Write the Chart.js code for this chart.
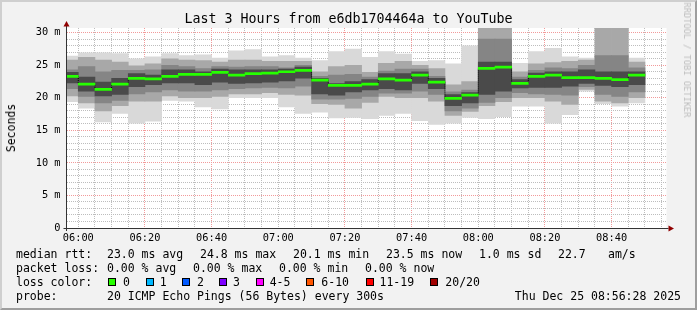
<!DOCTYPE html>
<html><head><meta charset="utf-8">
<script src="https://cdn.jsdelivr.net/npm/chart.js@4.4.1/dist/chart.umd.min.js"></script>
<style>
html,body{margin:0;padding:0;}
body{width:697px;height:310px;overflow:hidden;background:#f2f2f2;font-family:"DejaVu Sans Mono",monospace;position:relative;}
#frame{position:absolute;left:0;top:0;width:697px;height:310px;box-sizing:border-box;border-top:2px solid #cfcfcf;border-left:2px solid #cfcfcf;border-right:2px solid #9e9e9e;border-bottom:2px solid #9e9e9e;}
#c{position:absolute;left:0;top:0;}
.t{position:absolute;white-space:pre;color:#000;font-size:11.5px;line-height:14px;}
#title{position:absolute;left:0;top:11px;width:697px;text-align:center;font-size:13.3px;line-height:16px;color:#000;white-space:pre;}
#ylab{position:absolute;left:11px;top:128px;transform:translate(-50%,-50%) rotate(-90deg);font-size:11.5px;white-space:pre;color:#000;}
#wm{position:absolute;left:687px;top:60px;transform:translate(-50%,-50%) rotate(90deg);font-size:8.7px;white-space:pre;color:#bdbdbd;}
.box{position:absolute;width:6px;height:6px;border:1px solid #000;top:278px;}
</style>
</head><body>
<div id="frame"></div>
<canvas id="c" width="697" height="310"></canvas>
<div id="title"></div>
<div id="ylab">Seconds</div>
<div id="wm">RRDTOOL / TOBI OETIKER</div>
<div id="legend"></div>
<script>
// ---- data ----
const chartTitle = "Last 3 Hours from e6db1704464a to YouTube";
const startTime = "05:56:28";
const endTime = "08:56:28";
const sampleTimes = ["06:00","06:05","06:10","06:15","06:20","06:25","06:30","06:35","06:40","06:45","06:50","06:55",
  "07:00","07:05","07:10","07:15","07:20","07:25","07:30","07:35","07:40","07:45","07:50","07:55",
  "08:00","08:05","08:10","08:15","08:20","08:25","08:30","08:35","08:40","08:45","08:50"];
const medianRtt = [23.3,22.1,21.3,22.1,23.0,22.9,23.3,23.6,23.6,23.9,23.5,23.7,23.8,24.0,24.2,22.7,21.9,21.9,22.1,22.9,22.7,23.5,22.4,19.9,20.4,24.5,24.7,22.2,23.3,23.5,23.1,23.1,23.0,22.8,23.5];
const smokeMax = [26.4,26.9,26.9,26.8,26.0,26.3,26.8,26.5,26.6,26.1,27.2,27.4,26.3,26.5,26.1,25.7,27.1,27.5,26.2,27.1,26.7,25.6,25.7,25.2,28.0,32.0,32.0,25.3,27.1,27.6,26.3,26.1,32.0,32.0,26.1];
const smokeMin = [19.4,18.4,16.3,17.6,16.1,16.4,19.6,19.5,18.6,18.3,20.0,20.0,20.0,18.6,17.6,17.8,16.9,17.0,16.8,17.3,17.6,16.5,15.9,16.1,17.0,16.8,17.1,18.7,18.7,16.1,17.4,21.0,19.1,18.7,19.2];
const band2Hi = [25.8,26.2,25.8,25.5,24.9,25.2,26.0,25.8,25.7,25.5,25.8,25.8,25.6,25.6,25.6,24.0,24.8,25.0,23.9,25.3,25.6,25.0,24.5,22.0,22.5,32.0,32.0,24.0,25.2,25.4,25.6,25.8,32.0,32.0,25.5];
const band2Lo = [20.3,19.2,18.0,18.8,19.5,19.5,20.3,20.0,20.0,20.2,20.6,20.6,20.8,20.5,20.4,19.1,19.0,18.4,19.3,20.2,20.0,20.0,19.5,17.3,17.9,18.8,19.4,20.0,20.0,19.5,19.0,21.3,19.5,19.2,20.0];
const band3Hi = [24.3,24.8,24.0,24.2,24.2,24.3,25.0,24.8,24.5,24.8,24.7,24.8,24.8,24.6,25.0,23.3,23.5,23.6,23.2,24.1,24.4,24.4,23.3,20.9,21.2,29.0,29.0,23.2,24.2,24.6,24.5,25.0,26.5,26.5,24.6];
const band3Lo = [21.4,20.2,19.2,19.6,20.6,20.9,21.2,21.0,21.0,21.2,21.4,21.5,21.6,21.5,21.8,19.8,19.8,19.9,20.2,20.7,20.7,21.0,20.5,18.0,18.4,19.3,20.0,20.8,20.6,20.5,20.4,21.7,20.5,20.2,20.9];
const coreHi = [23.9,23.2,22.4,23.0,23.7,23.5,24.3,24.3,24.0,24.4,24.3,24.3,24.3,24.4,24.7,23.0,22.2,22.5,22.8,23.7,23.7,24.0,23.0,20.5,20.8,25.5,25.5,22.8,23.8,24.0,24.0,24.3,24.0,24.0,24.0];
const coreLo = [22.3,21.0,20.3,20.5,21.7,22.0,22.3,22.3,22.0,22.4,22.2,22.3,22.4,22.6,23.0,20.6,20.4,20.9,21.2,21.4,21.2,22.2,21.4,18.8,19.2,20.5,21.0,21.5,21.6,21.6,21.8,22.2,21.9,21.7,22.0];
const xTickLabels = ["06:00","06:20","06:40","07:00","07:20","07:40","08:00","08:20","08:40"];
const yTickLabels = ["0","5 m","10 m","15 m","20 m","25 m","30 m"];
const yMax = 30.72;
const lossLabels = ["0","1","2","3","4-5","6-10","11-19","20/20"];
const lossColors = ["#26ff00","#00b8ff","#0059ff","#7e00ff","#ff00ff","#ff5500","#ff0000","#a10000"];
const statsRtt = ["23.0 ms avg","24.8 ms max","20.1 ms min","23.5 ms now","1.0 ms sd","22.7","am/s"];
const statsLoss = ["0.00 % avg","0.00 % max","0.00 % min","0.00 % now"];
const probeText = "20 ICMP Echo Pings (56 Bytes) every 300s";
const dateText = "Thu Dec 25 08:56:28 2025";

// ---- layout of text (positions only) ----
document.getElementById('title').textContent = chartTitle;
const legend = document.getElementById('legend');
function addText(txt, left, center, right){
  const s = document.createElement('div'); s.className='t'; s.textContent = txt;
  s.style.top = (center-7)+'px';
  if (right) { s.style.right = (697-left)+'px'; } else { s.style.left = left+'px'; }
  legend.appendChild(s); return s;
}
addText("median rtt:", 16, 254.3);
[107,200,293,386,479,558,608].forEach((x,i)=>addText(statsRtt[i], x, 254.3));
addText("packet loss:", 16, 268.3);
[107,193,279,365].forEach((x,i)=>addText(statsLoss[i], x, 268.3));
addText("loss color:", 16, 282.3);
const boxX = [108,145.7,182.3,219,256,306.4,366,430];
const labX = [123,159.7,197,233,269.7,321.3,379.5,445.3];
lossLabels.forEach((l,i)=>{
  const b=document.createElement('div'); b.className='box'; b.style.left=boxX[i]+'px'; b.style.background=lossColors[i]; legend.appendChild(b);
  addText(l, labX[i], 282.3);
});
addText("probe:", 16, 296.3);
addText(probeText, 107, 296.3);
addText(dateText, 681, 296.3, true);

// ---- chart ----
function toMin(s){ const p=s.split(':').map(Number); return (p[0]-6)*60 + p[1] + (p[2]||0)/60; }
const xMin = toMin(startTime), xMax = toMin(endTime);
const centers = sampleTimes.map(t => toMin(t) - 2.5);
const pair = (lo, hi) => centers.map((c,i)=>({x:c, y:[lo[i], hi[i]]}));
const medLo = medianRtt.map(v=>v-0.16), medHi = medianRtt.map(v=>v+0.16);

const redGrid = '#f29a9a', grayGrid = '#bdbdbd';
const mono = "'DejaVu Sans Mono', monospace";

const decor = {
  id:'decor',
  beforeDraw(chart){
    const {ctx, chartArea:a} = chart;
    ctx.save(); ctx.fillStyle='#ffffff';
    ctx.fillRect(a.left, a.top, a.right-a.left, a.bottom-a.top);
    ctx.restore();
  },
  afterDraw(chart){
    const {ctx, chartArea:a} = chart;
    const x0 = Math.floor(a.left)+0.5, y0 = Math.floor(a.bottom)+0.5;
    ctx.save();
    ctx.strokeStyle='#333'; ctx.lineWidth=1;
    ctx.beginPath(); ctx.moveTo(x0, a.bottom+3); ctx.lineTo(x0, a.top-2); ctx.stroke();
    ctx.beginPath(); ctx.moveTo(a.left-3, y0); ctx.lineTo(a.right+2, y0); ctx.stroke();
    ctx.fillStyle='#900000';
    ctx.beginPath(); ctx.moveTo(x0, a.top-7); ctx.lineTo(x0-3, a.top-1.5); ctx.lineTo(x0+3, a.top-1.5); ctx.closePath(); ctx.fill();
    ctx.beginPath(); ctx.moveTo(a.right+7.5, y0); ctx.lineTo(a.right+2, y0-3); ctx.lineTo(a.right+2, y0+3); ctx.closePath(); ctx.fill();
    ctx.restore();
  }
};

const barDs = (label, data, color, order) => ({type:'bar', label, data, backgroundColor:color, borderWidth:0,
  grouped:false, order, clip:0, barPercentage:1, categoryPercentage:1});

new Chart(document.getElementById('c'), {
  type:'bar',
  data:{ datasets:[
    barDs('range', pair(smokeMin, smokeMax), '#d9d9d9', 7),
    barDs('band2', pair(band2Lo, band2Hi), '#a8a8a8', 6),
    barDs('band3', pair(band3Lo, band3Hi), '#858585', 5),
    barDs('core', pair(coreLo, coreHi), '#4a4a4a', 4),
    {type:'line', label:'step', data: centers.map((c,i)=>({x:c, y:medianRtt[i]})), stepped:'middle',
      borderColor:'#000', borderWidth:1, borderDash:[1,1], pointRadius:0, order:3, clip:0},
    barDs('median', pair(medLo, medHi), '#26ff00', 2)
  ]},
  options:{
    responsive:false, animation:false, devicePixelRatio:1, events:[],
    layout:{padding:{top:28, right:30.5, left:0, bottom:0}},
    plugins:{legend:{display:false}, tooltip:{enabled:false}, title:{display:false}},
    scales:{
      x:{type:'linear', min:xMin, max:xMax, offset:false, z:1,
        afterBuildTicks: s => { const t=[]; for(let v=0; v<=xMax; v+=5) t.push({value:v}); s.ticks=t; },
        afterFit: s => { s.height = 82; },
        ticks:{autoSkip:false, maxRotation:0, minRotation:0, padding:4, color:'#000', font:{family:mono, size:10.3},
          callback: v => (v%20===0 ? xTickLabels[v/20] : '')},
        grid:{offset:false, drawTicks:false, lineWidth:1,
          color: c => (c.tick && c.tick.value%20===0 && c.tick.value%60!==0) ? redGrid : grayGrid},
        border:{display:false, dash:[1,1]}
      },
      y:{min:0, max:yMax, z:1,
        afterBuildTicks: s => { const t=[]; for(let v=0; v<=30; v++) t.push({value:v}); s.ticks=t; },
        afterFit: s => { s.width = 66.5; },
        ticks:{autoSkip:false, padding:6, color:'#000', font:{family:mono, size:10.3},
          callback: v => (v%5===0 ? yTickLabels[v/5] : '')},
        grid:{drawTicks:false, lineWidth:1,
          color: c => (c.tick && c.tick.value%5===0) ? redGrid : grayGrid},
        border:{display:false, dash:[1,1]}
      }
    }
  },
  plugins:[decor]
});
</script>
</body></html>
